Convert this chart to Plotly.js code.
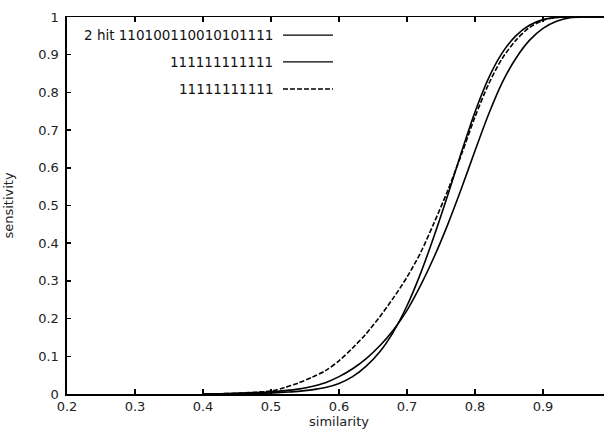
<!DOCTYPE html>
<html>
<head>
<meta charset="utf-8">
<script src="https://cdn.plot.ly/plotly-3.0.1.min.js"></script>
<style>
html, body { margin: 0; padding: 0; overflow: hidden; background: #fff; }
#chart { width: 611px; height: 431px; }
</style>
</head>
<body>
<div id="chart"></div>
<script>
// similarity grid
const similarity = [0.40, 0.45, 0.50, 0.52, 0.54, 0.56, 0.58, 0.60, 0.62, 0.64, 0.66, 0.68, 0.70, 0.72, 0.74, 0.76, 0.78, 0.80, 0.82, 0.84, 0.86, 0.88, 0.90, 0.92, 0.94, 0.96, 0.98, 1.00];
// 2 hit 110100110010101111
const twoHit   = [0.000, 0.001, 0.003, 0.005, 0.007, 0.011, 0.017, 0.028, 0.046, 0.074, 0.112, 0.165, 0.234, 0.320, 0.420, 0.528, 0.641, 0.748, 0.838, 0.905, 0.950, 0.978, 0.993, 0.999, 1.000, 1.000, 1.000, 1.000];
// 111111111111 (12)
const ones12   = [0.000, 0.002, 0.006, 0.009, 0.013, 0.020, 0.030, 0.046, 0.067, 0.094, 0.128, 0.170, 0.222, 0.288, 0.364, 0.450, 0.545, 0.645, 0.742, 0.826, 0.890, 0.938, 0.970, 0.989, 0.998, 1.000, 1.000, 1.000];
// 11111111111 (11)
const ones11   = [0.000, 0.002, 0.008, 0.017, 0.029, 0.044, 0.062, 0.088, 0.122, 0.160, 0.205, 0.255, 0.310, 0.375, 0.455, 0.540, 0.635, 0.735, 0.822, 0.890, 0.938, 0.972, 0.991, 0.999, 1.000, 1.000, 1.000, 1.000];

const seriesNames = ['2 hit 110100110010101111', '111111111111', '11111111111'];
const seriesDash = ['solid', 'solid', '5px,2px'];
const seriesData = [twoHit, ones12, ones11];

const xTicks = [0.2, 0.3, 0.4, 0.5, 0.6, 0.7, 0.8, 0.9, 1.0];
const yTicks = [0, 0.1, 0.2, 0.3, 0.4, 0.5, 0.6, 0.7, 0.8, 0.9, 1];

const traces = seriesData.map((ys, i) => ({
  x: similarity, y: ys, type: 'scatter', mode: 'lines',
  name: seriesNames[i], showlegend: false,
  line: { color: '#000', width: 1.6, dash: seriesDash[i], shape: 'spline', smoothing: 0.8 }
}));

const font = { family: 'DejaVu Sans, sans-serif', size: 13, color: '#222' };

const legendRowsY = [0.952, 0.881, 0.809];
const annotations = seriesNames.map((n, i) => ({
  xref: 'paper', yref: 'paper', x: 0.383, y: legendRowsY[i],
  xanchor: 'right', yanchor: 'middle', showarrow: false,
  text: n, font: { family: 'DejaVu Sans, sans-serif', size: 13.5, color: '#111' }
}));
const shapes = seriesNames.map((n, i) => ({
  type: 'line', xref: 'paper', yref: 'paper',
  x0: 0.397, x1: 0.489, y0: legendRowsY[i], y1: legendRowsY[i],
  line: { color: '#000', width: 1.3, dash: seriesDash[i] }
}));

const layout = {
  width: 611, height: 431,
  margin: { l: 67, r: 0, t: 17, b: 37 },
  paper_bgcolor: '#fff', plot_bgcolor: '#fff',
  font: font,
  xaxis: {
    range: [0.2, 1.0], tickvals: xTicks, ticktext: xTicks.map(v => v.toFixed(1)),
    ticks: 'inside', ticklen: 5, tickwidth: 1.2, tickcolor: '#000',
    showline: true, linecolor: '#000', linewidth: 1.5, mirror: 'ticks',
    showgrid: false, zeroline: false,
    title: { text: 'similarity', font: font, standoff: 2 }
  },
  yaxis: {
    range: [0, 1], tickvals: yTicks, ticktext: yTicks.map(v => (v === 0 || v === 1) ? String(v) : v.toFixed(1)),
    ticks: 'inside', ticklen: 4, tickwidth: 1.5, tickcolor: '#000',
    showline: true, linecolor: '#000', linewidth: 2.5, mirror: false,
    showgrid: false, zeroline: false, ticklabelstandoff: 3,
    title: { text: 'sensitivity', font: font, standoff: 22 }
  },
  annotations: annotations,
  shapes: shapes
};

Plotly.newPlot('chart', traces, layout, { displayModeBar: false, staticPlot: true });
</script>
</body>
</html>
